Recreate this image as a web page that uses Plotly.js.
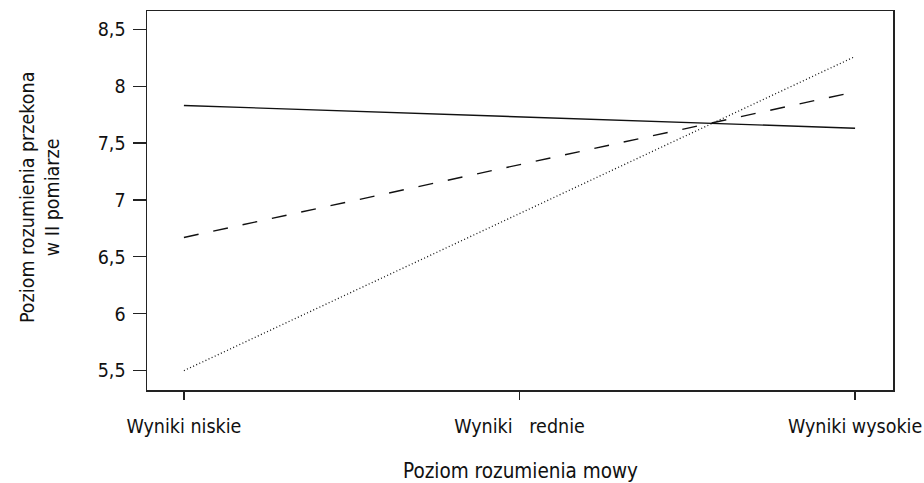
<!DOCTYPE html>
<html>
<head>
<meta charset="utf-8">
<script src="https://cdn.plot.ly/plotly-3.0.1.min.js"></script>
<style>
  html, body { margin: 0; padding: 0; background: #fff; }
  #chart { width: 924px; height: 483px; }
</style>
</head>
<body>
<div id="chart"></div>
<script>
// Poziom rozumienia mowy (oś X) vs. poziom rozumienia przekonań w II pomiarze
const categories = ['Wyniki niskie', 'Wyniki   rednie', 'Wyniki wysokie'];
const groupSolid  = [7.83, 7.73, 7.63];
const groupDashed = [6.67, 7.31, 7.95];
const groupDotted = [5.50, 6.88, 8.26];
const yTicks = [5.5, 6, 6.5, 7, 7.5, 8, 8.5];
const yTickLabels = ['5,5', '6', '6,5', '7', '7,5', '8', '8,5'];
const xTitle = 'Poziom rozumienia mowy';
const yTitle = 'Poziom rozumienia przekona<br>w II pomiarze';

const FONT = '"Liberation Sans Narrow", "Arial Narrow", "DejaVu Sans Condensed", sans-serif';
const INK = '#111';
const xIdx = categories.map((_, i) => i);

function series(y, dash, width) {
  return {
    x: xIdx, y: y, type: 'scatter', mode: 'lines',
    line: { color: INK, width: width, dash: dash },
    hoverinfo: 'skip', showlegend: false
  };
}

const data = [
  series(groupSolid, 'solid', 1.4),
  series(groupDashed, '15px,15px', 1.4),
  series(groupDotted, '1px,2.4px', 1.3)
];

const layout = {
  width: 924, height: 483,
  margin: { l: 147, r: 31, t: 11, b: 93 },
  paper_bgcolor: '#fff', plot_bgcolor: '#fff',
  font: { family: FONT, size: 19.5, color: INK },
  showlegend: false,
  xaxis: {
    range: [-0.11, 2.113],
    tickmode: 'array', tickvals: xIdx, ticktext: categories,
    ticks: 'outside', ticklen: 8, tickwidth: 1.2, tickcolor: '#222',
    ticklabelstandoff: 10, ticklabeloverflow: 'allow',
    showgrid: false, zeroline: false,
    showline: true, mirror: true, linecolor: '#222', linewidth: 1.5,
    tickfont: { family: FONT, size: 19.5, color: INK }
  },
  yaxis: {
    range: [5.33, 8.66],
    tickmode: 'array', tickvals: yTicks, ticktext: yTickLabels,
    ticks: 'outside', ticklen: 13, tickwidth: 1.2, tickcolor: '#222',
    ticklabelstandoff: 3,
    showgrid: false, zeroline: false,
    showline: true, mirror: true, linecolor: '#222', linewidth: 1.5,
    tickfont: { family: FONT, size: 19.5, color: INK }
  },
  annotations: [
    {
      text: xTitle, xref: 'paper', yref: 'paper', x: 0.5, y: -0.2137,
      xanchor: 'center', yanchor: 'middle', showarrow: false,
      font: { family: FONT, size: 20.5, color: INK }
    },
    {
      text: yTitle, xref: 'paper', yref: 'paper', x: -0.1434, y: 0.5066,
      xanchor: 'center', yanchor: 'middle', textangle: -90, showarrow: false,
      align: 'center',
      font: { family: FONT, size: 19.5, color: INK }
    }
  ]
};

Plotly.newPlot('chart', data, layout, { staticPlot: true, displayModeBar: false });
</script>
</body>
</html>
